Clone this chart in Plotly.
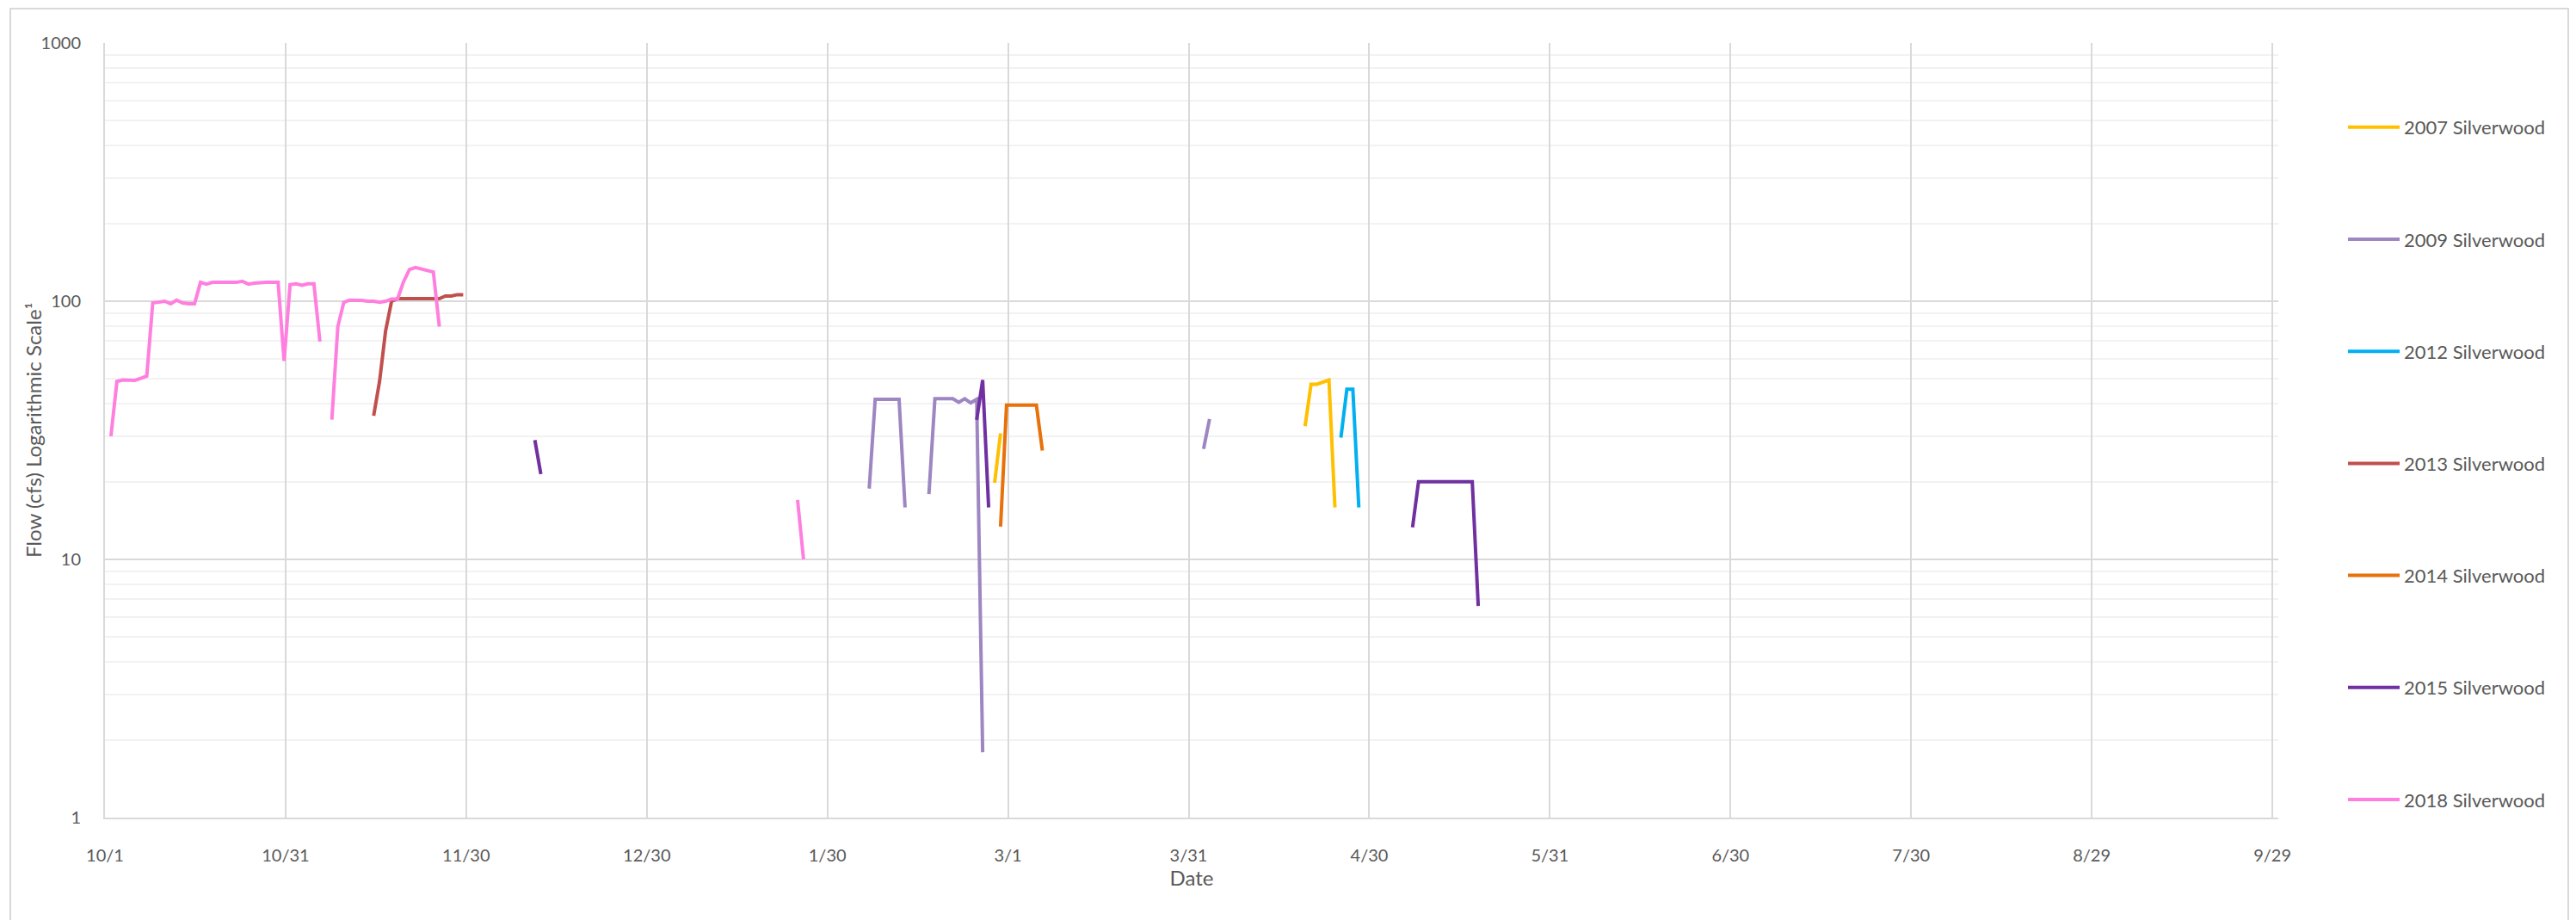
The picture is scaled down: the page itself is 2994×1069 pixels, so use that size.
import pandas as pd
import plotly.graph_objects as go

# Flows from several years overlaid on one water-year axis (Oct 1 - Sep 30).
AXIS_START = "2018-10-01"
AXIS_END = "2019-09-30"

series_names = [
    "2007 Silverwood",
    "2009 Silverwood",
    "2012 Silverwood",
    "2013 Silverwood",
    "2014 Silverwood",
    "2015 Silverwood",
    "2018 Silverwood",
]

# Daily flow (cfs) as runs of consecutive days: (first month-day, values)
runs_2007 = [
    ("02-27", [19.8, 30.8]),
    ("04-20", [32.8, 47.7, 47.7, 48.6, 49.5, 15.9]),
]
runs_2009 = [
    ("02-06", [18.8, 41.7, 41.7, 41.7, 41.7, 41.7, 15.9]),
    ("02-16", [17.9, 41.9, 41.9, 41.9, 41.9, 40.6, 41.9, 40.4, 41.7, 1.79]),
    ("04-03", [26.8, 35.0]),
]
runs_2012 = [
    ("04-26", [29.6, 45.6, 45.6, 15.9]),
]
runs_2013 = [
    ("11-15", [36.0, 49.1, 76.7, 100.0, 102.3, 102.3, 102.3, 102.3,
               102.3, 102.3, 102.3, 102.3, 104.7, 104.7, 106.0, 106.0]),
]
runs_2014 = [
    ("02-28", [13.4, 39.6, 39.6, 39.6, 39.6, 39.6, 39.6, 26.4]),
]
runs_2015 = [
    ("12-12", [29.0, 21.4]),
    ("02-24", [34.7, 49.5, 15.9]),
    ("05-08", [13.3, 20, 20, 20, 20, 20, 20, 20, 20, 20, 20, 6.6]),
]
runs_2018 = [
    ("10-02", [30.0, 48.9, 49.5, 49.4, 49.4, 50.3, 51.3, 98.5, 99.0, 100.0,
               97.7, 101.0, 98.5, 97.7, 97.7, 118.3, 116.5, 118.3, 118.3, 118.3,
               118.3, 118.3, 119.5, 116.5, 117.5, 118.3, 118.3, 118.3, 118.3, 58.7,
               115.9, 116.8, 115.3, 116.8, 116.8, 69.8]),
    ("11-08", [34.8, 79.7, 99.0, 101.0, 100.8, 100.8, 100.0, 100.0, 99.0, 100.0,
               102.0, 102.0, 118.9, 132.7, 135.0, 133.3, 131.0, 129.7, 79.7]),
    ("01-25", [17.0, 10.0]),
]

tick_labels = ["10/1", "10/31", "11/30", "12/30", "1/30", "3/1", "3/31",
               "4/30", "5/31", "6/30", "7/30", "8/29", "9/29"]
y_tick_values = [1, 10, 100, 1000]

series_runs = [runs_2007, runs_2009, runs_2012, runs_2013, runs_2014, runs_2015, runs_2018]
colors = ["#FFC000", "#9D86C1", "#00B0F0", "#C0504D", "#E8710A", "#7030A0", "#FF7FDF"]

TEXT = "#595959"
GRID = "#D9D9D9"
MINOR = "#F2F2F2"
FONT = "Lato"

W, H = 2994, 1069
PL, PR, PT, PB = 122, 2648, 50, 950  # plot area in pixels

# Legend entries: one small legend per series, stacked down the right side
LEGEND_X = 2724
LEGEND_Y0, LEGEND_STEP = 148, 130.2


def axis_date(md):
    month = int(md[:2])
    year = 2018 if month >= 10 else 2019
    return pd.Timestamp(f"{year}-{md}")


def build_xy(runs):
    xs, ys = [], []
    for i, (start, vals) in enumerate(runs):
        if i:
            xs.append(None)
            ys.append(None)
        days = pd.date_range(axis_date(start), periods=len(vals), freq="D")
        xs.extend(d.strftime("%Y-%m-%d") for d in days)
        ys.extend(vals)
    return xs, ys


fig = go.Figure()
legend_layouts = {}
for i, (name, runs, color) in enumerate(zip(series_names, series_runs, colors)):
    xs, ys = build_xy(runs)
    legend_id = "legend" if i == 0 else f"legend{i + 1}"
    fig.add_trace(go.Scatter(
        x=xs, y=ys, name=name, mode="lines",
        line=dict(color=color, width=4),
        connectgaps=False, legend=legend_id,
    ))
    legend_layouts[legend_id] = dict(
        xref="container", yref="container",
        x=LEGEND_X / W, y=1 - (LEGEND_Y0 + i * LEGEND_STEP) / H,
        xanchor="left", yanchor="middle",
        font=dict(family=FONT, size=22, color=TEXT),
        itemwidth=60, bgcolor="rgba(0,0,0,0)", borderwidth=0,
    )

# Date ticks every 30.25 days from the start of the water year
start = pd.Timestamp(AXIS_START)
tick_vals = [(start + pd.Timedelta(days=30.25 * k)).strftime("%Y-%m-%d %H:%M")
             for k in range(len(tick_labels))]

minor_vals = [m * 10 ** e for e in range(3) for m in range(2, 10)]


def px_x(p):
    return (p - PL) / (PR - PL)


def px_y(p):
    return (PB - p) / (PB - PT)


fig.update_layout(
    width=W, height=H,
    margin=dict(l=PL, r=W - PR, t=PT, b=H - PB),
    paper_bgcolor="white", plot_bgcolor="white",
    font=dict(family=FONT, size=20, color=TEXT),
    showlegend=True,
    xaxis=dict(
        type="date",
        range=[AXIS_START, AXIS_END],
        tickmode="array", tickvals=tick_vals, ticktext=tick_labels,
        showgrid=True, gridcolor=GRID, gridwidth=2,
        showline=True, linecolor=GRID, linewidth=2,
        ticks="outside", ticklen=25, tickcolor="rgba(0,0,0,0)",
        tickfont=dict(family=FONT, size=20, color=TEXT),
        zeroline=False,
        title=dict(text="Date", font=dict(family=FONT, size=24, color=TEXT), standoff=5),
    ),
    yaxis=dict(
        type="log",
        range=[0, 3],
        tickmode="array", tickvals=y_tick_values,
        ticktext=[str(v) for v in y_tick_values],
        showgrid=True, gridcolor=GRID, gridwidth=2,
        showline=True, linecolor=GRID, linewidth=2,
        ticks="outside", ticklen=22, tickcolor="rgba(0,0,0,0)",
        tickfont=dict(family=FONT, size=20, color=TEXT),
        minor=dict(tickmode="array", tickvals=minor_vals, showgrid=True,
                   gridcolor=MINOR, gridwidth=2, ticks=""),
        zeroline=False,
    ),
    annotations=[dict(
        text="Flow (cfs) Logarithmic Scale¹", textangle=-90,
        xref="paper", yref="paper", x=px_x(38), y=0.5,
        xanchor="center", yanchor="middle", showarrow=False,
        font=dict(family=FONT, size=24, color=TEXT),
    )],
    shapes=[dict(
        type="rect", xref="paper", yref="paper",
        x0=px_x(12), x1=px_x(2985), y0=px_y(1080), y1=px_y(10),
        line=dict(color=GRID, width=2), fillcolor="rgba(0,0,0,0)", layer="below",
    )],
    **legend_layouts,
)

fig.write_html("out.html")
